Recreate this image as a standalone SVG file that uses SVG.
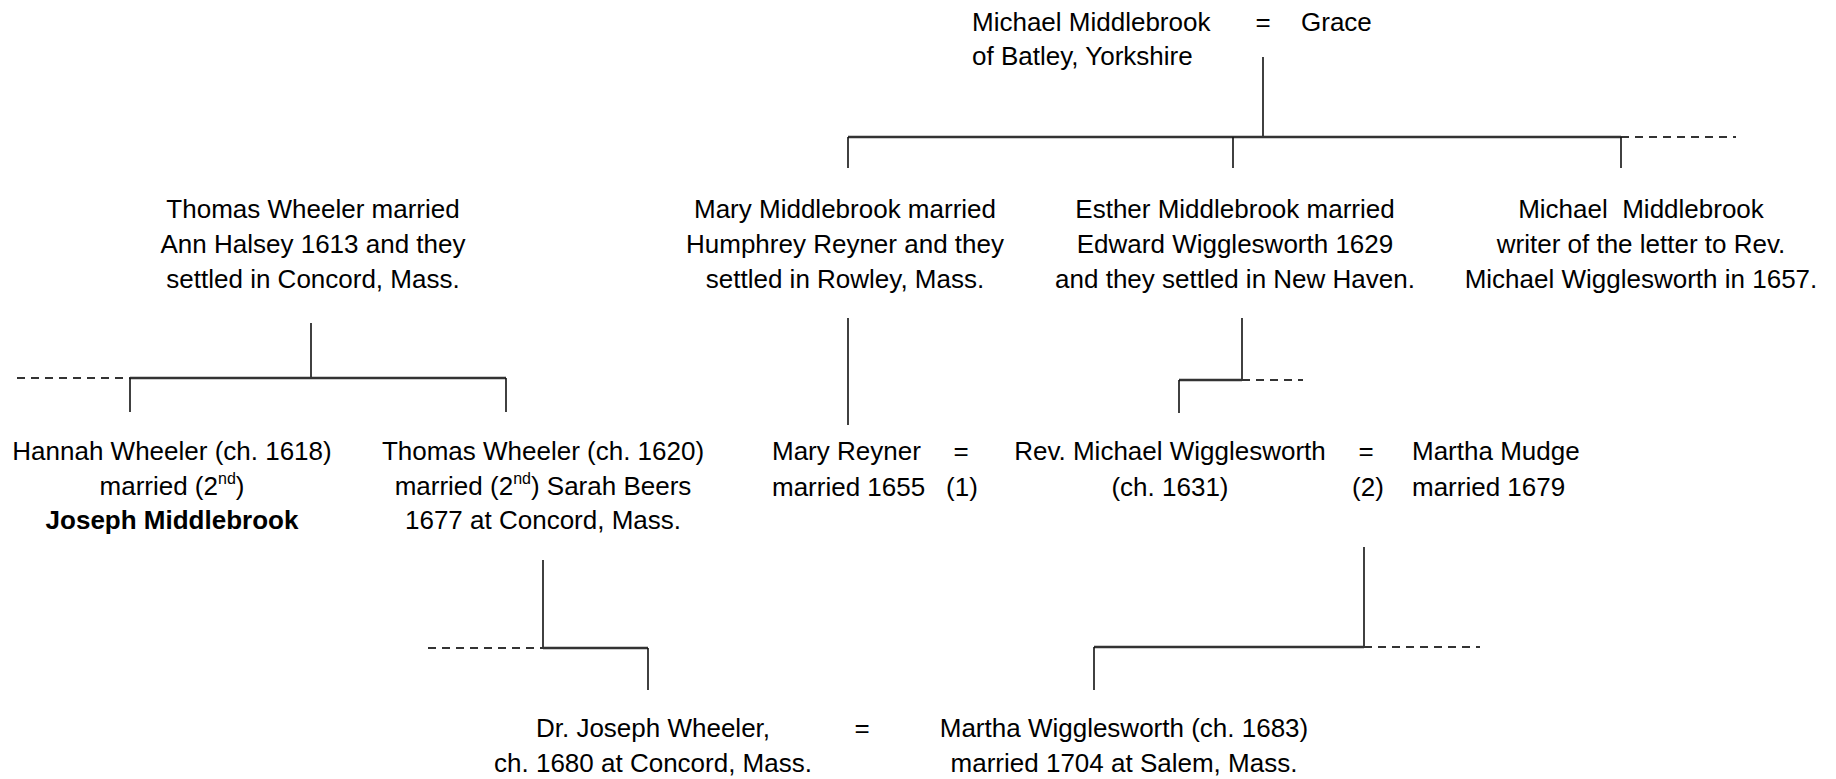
<svg xmlns="http://www.w3.org/2000/svg" width="1836" height="779" viewBox="0 0 1836 779">
<style>
  text { font-family: "Liberation Sans", Arial, sans-serif; font-size: 26px; fill: #000; }
  .c { text-anchor: middle; }
  .b { font-weight: bold; }
  .v { stroke: #111; stroke-width: 1.6; fill: none; }
  .h { stroke: #333; stroke-width: 2.4; fill: none; }
  .d { stroke: #333; stroke-width: 2; stroke-dasharray: 8 6; fill: none; }
</style>
<rect x="0" y="0" width="1836" height="779" fill="#fff"/>

<g id="connectors">
  <!-- top family -->
  <line class="v" x1="1263" y1="57" x2="1263" y2="137"/>
  <line class="h" x1="848" y1="137" x2="1621" y2="137"/>
  <line class="d" x1="1621" y1="137" x2="1736" y2="137"/>
  <line class="v" x1="848" y1="137" x2="848" y2="168"/>
  <line class="v" x1="1233" y1="137" x2="1233" y2="168"/>
  <line class="v" x1="1621" y1="137" x2="1621" y2="168"/>
  <!-- Thomas Wheeler family -->
  <line class="v" x1="311" y1="323" x2="311" y2="378"/>
  <line class="h" x1="130" y1="378" x2="506" y2="378"/>
  <line class="d" x1="17" y1="378" x2="130" y2="378"/>
  <line class="v" x1="130" y1="378" x2="130" y2="412"/>
  <line class="v" x1="506" y1="378" x2="506" y2="412"/>
  <!-- Mary Middlebrook -->
  <line class="v" x1="848" y1="318" x2="848" y2="425"/>
  <!-- Esther Middlebrook -->
  <line class="v" x1="1242" y1="318" x2="1242" y2="380"/>
  <line class="h" x1="1179" y1="380" x2="1242" y2="380"/>
  <line class="d" x1="1242" y1="380" x2="1303" y2="380"/>
  <line class="v" x1="1179" y1="380" x2="1179" y2="413"/>
  <!-- Thomas Wheeler (ch. 1620) -->
  <line class="v" x1="543" y1="560" x2="543" y2="648"/>
  <line class="h" x1="543" y1="648" x2="648" y2="648"/>
  <line class="d" x1="428" y1="648" x2="543" y2="648"/>
  <line class="v" x1="648" y1="648" x2="648" y2="690"/>
  <!-- Rev. Michael Wigglesworth = Martha Mudge -->
  <line class="v" x1="1364" y1="547" x2="1364" y2="647"/>
  <line class="h" x1="1094" y1="647" x2="1364" y2="647"/>
  <line class="d" x1="1364" y1="647" x2="1480" y2="647"/>
  <line class="v" x1="1094" y1="647" x2="1094" y2="690"/>
</g>

<g id="michael-grace">
  <text x="972" y="31">Michael Middlebrook</text>
  <text x="972" y="65">of Batley, Yorkshire</text>
  <text class="c" x="1263" y="31">=</text>
  <text x="1301" y="31">Grace</text>
</g>

<g id="thomas-wheeler-ann">
  <text class="c" x="313" y="218">Thomas Wheeler married</text>
  <text class="c" x="313" y="253">Ann Halsey 1613 and they</text>
  <text class="c" x="313" y="288">settled in Concord, Mass.</text>
</g>

<g id="mary-middlebrook">
  <text class="c" x="845" y="218">Mary Middlebrook married</text>
  <text class="c" x="845" y="253">Humphrey Reyner and they</text>
  <text class="c" x="845" y="288">settled in Rowley, Mass.</text>
</g>

<g id="esther-middlebrook">
  <text class="c" x="1235" y="218">Esther Middlebrook married</text>
  <text class="c" x="1235" y="253">Edward Wigglesworth 1629</text>
  <text class="c" x="1235" y="288">and they settled in New Haven.</text>
</g>

<g id="michael-middlebrook-writer">
  <text class="c" x="1641" y="218" xml:space="preserve">Michael  Middlebrook</text>
  <text class="c" x="1641" y="253">writer of the letter to Rev.</text>
  <text class="c" x="1641" y="288">Michael Wigglesworth in 1657.</text>
</g>

<g id="hannah-wheeler">
  <text class="c" x="172" y="460">Hannah Wheeler (ch. 1618)</text>
  <text class="c" x="172" y="495">married (2<tspan font-size="16" dy="-11">nd</tspan><tspan dy="11">)</tspan></text>
  <text class="c b" x="172" y="529" font-size="24">Joseph Middlebrook</text>
</g>

<g id="thomas-wheeler-1620">
  <text class="c" x="543" y="460">Thomas Wheeler (ch. 1620)</text>
  <text class="c" x="543" y="495">married (2<tspan font-size="16" dy="-11">nd</tspan><tspan dy="11">) Sarah Beers</tspan></text>
  <text class="c" x="543" y="529">1677 at Concord, Mass.</text>
</g>

<g id="mary-reyner">
  <text x="772" y="460">Mary Reyner</text>
  <text x="772" y="496">married 1655</text>
  <text class="c" x="961" y="460">=</text>
  <text class="c" x="962" y="496">(1)</text>
</g>

<g id="rev-michael-wigglesworth">
  <text class="c" x="1170" y="460">Rev. Michael Wigglesworth</text>
  <text class="c" x="1170" y="496">(ch. 1631)</text>
</g>

<g id="martha-mudge">
  <text class="c" x="1366" y="460">=</text>
  <text class="c" x="1368" y="496">(2)</text>
  <text x="1412" y="460">Martha Mudge</text>
  <text x="1412" y="496">married 1679</text>
</g>

<g id="joseph-wheeler">
  <text class="c" x="653" y="737">Dr. Joseph Wheeler,</text>
  <text class="c" x="653" y="772">ch. 1680 at Concord, Mass.</text>
  <text class="c" x="862" y="737">=</text>
</g>

<g id="martha-wigglesworth">
  <text class="c" x="1124" y="737">Martha Wigglesworth (ch. 1683)</text>
  <text class="c" x="1124" y="772">married 1704 at Salem, Mass.</text>
</g>
</svg>
